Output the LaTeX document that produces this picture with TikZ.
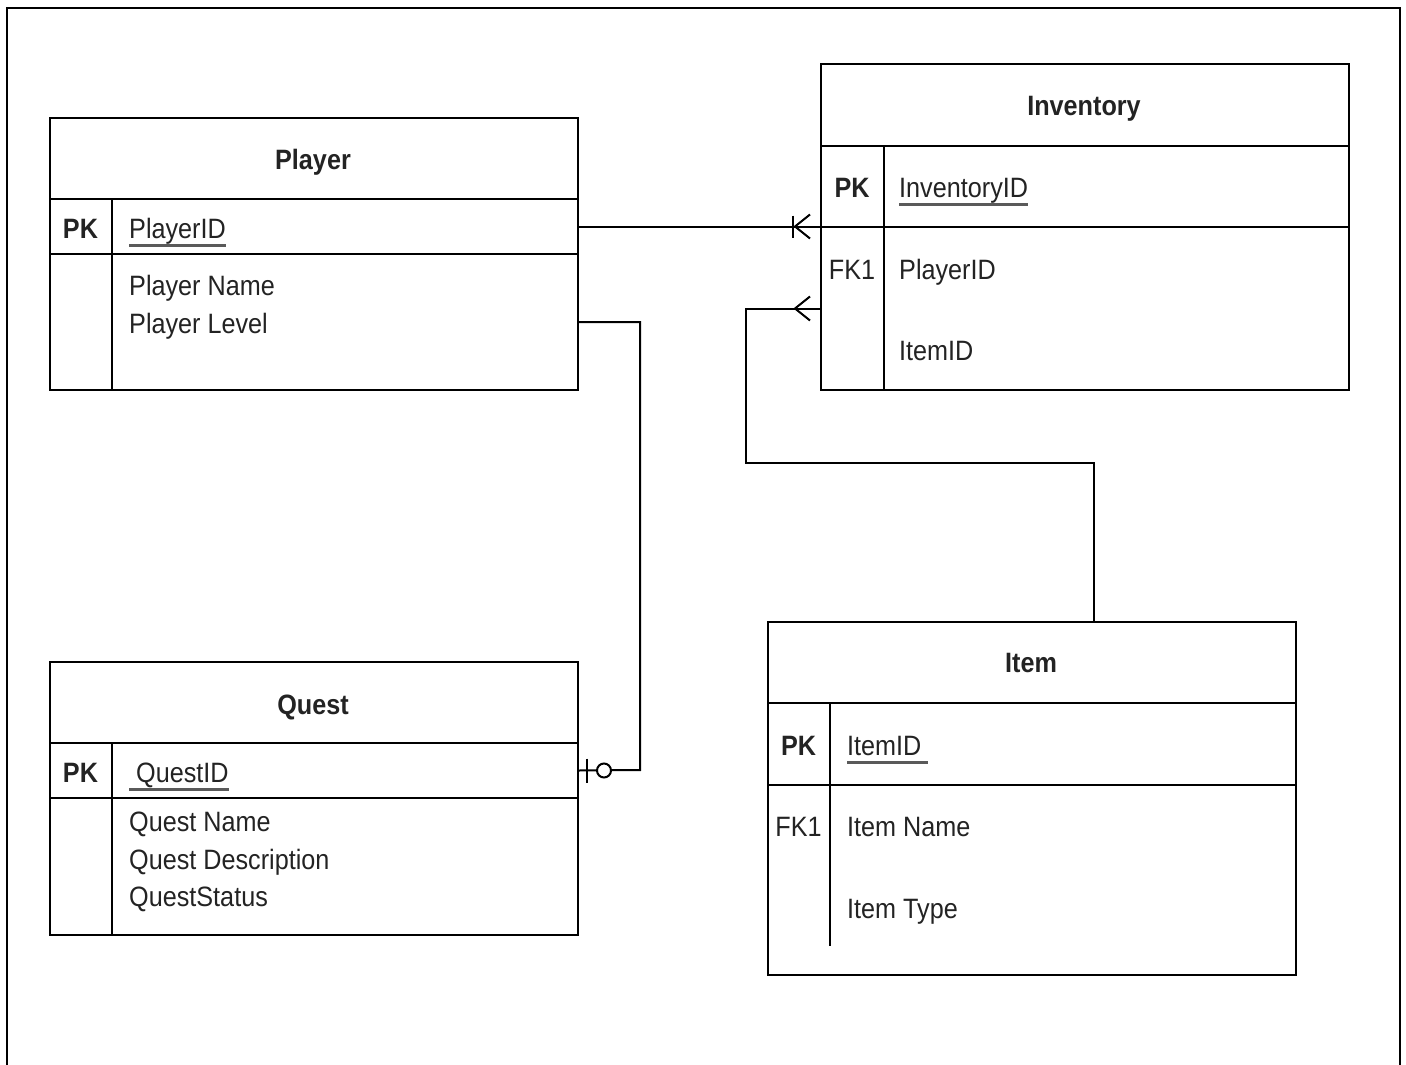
\documentclass[tikz,border=0pt]{standalone}
\usepackage{fontspec}
\setmainfont[FakeStretch=0.9]{Liberation Sans}
\definecolor{txt}{RGB}{35,35,35}
\definecolor{ulgray}{RGB}{90,90,90}
\newsavebox{\ulboxx}
\newcommand{\ulx}[1]{\sbox{\ulboxx}{#1}\rlap{\textcolor{ulgray}{\rule[-8.5pt]{\wd\ulboxx}{3pt}}}\usebox{\ulboxx}}
\begin{document}
\begin{tikzpicture}[x=1pt,y=-1pt,
  tbl/.style={draw, line width=2pt, rectangle, inner sep=0pt, anchor=north west, minimum width=528pt},
  lbl/.style={anchor=base west, inner sep=0pt, font=\fontsize{28}{33}\selectfont, text=txt},
  keylbl/.style={anchor=base, inner sep=0pt, font=\fontsize{28}{33}\selectfont, text=txt},
  ttl/.style={anchor=base, inner sep=0pt, font=\fontsize{28}{33}\selectfont\bfseries, text=txt},
  conn/.style={line width=2pt, line join=miter},
  divider/.style={line width=2pt}
]
\useasboundingbox (0,0) rectangle (1406,1065);
% outer frame
\draw[line width=2.5pt] (7,1065) -- (7,8) -- (1400,8) -- (1400,1065);

% ---------------- Player ----------------
\node[tbl, minimum height=81pt] (playerH) at (49,117) {};
\node[tbl, minimum height=55pt] (playerPK) at (49,198) {};
\node[tbl, minimum height=136pt] (playerB) at (49,253) {};
\draw[divider] (112,198) -- (112,389);
\node[ttl] (playerT) at (313,169) {Player};
\node[keylbl, font=\fontsize{28}{33}\selectfont\bfseries] (playerK) at (80.5,238) {PK};
\node[lbl] (playerID) at (129,238) {\ulx{PlayerID}};
\node[lbl] (playerN) at (129,295) {Player Name};
\node[lbl] (playerL) at (129,333) {Player Level};

% ---------------- Inventory ----------------
\node[tbl, minimum height=82pt] (invH) at (820,63) {};
\node[tbl, minimum height=81pt] (invPK) at (820,145) {};
\node[tbl, minimum height=163pt] (invB) at (820,226) {};
\draw[divider] (884,145) -- (884,389);
\node[ttl] (invT) at (1084,115) {Inventory};
\node[keylbl, font=\fontsize{28}{33}\selectfont\bfseries] (invK) at (852,197) {PK};
\node[lbl] (invID) at (899,197) {\ulx{InventoryID}};
\node[keylbl] (invFK) at (852,279) {FK1};
\node[lbl] (invP) at (899,279) {PlayerID};
\node[lbl] (invI) at (899,360) {ItemID};

% ---------------- Quest ----------------
\node[tbl, minimum height=81pt] (questH) at (49,661) {};
\node[tbl, minimum height=55pt] (questPK) at (49,742) {};
\node[tbl, minimum height=137pt] (questB) at (49,797) {};
\draw[divider] (112,742) -- (112,934);
\node[ttl] (questT) at (313,714) {Quest};
\node[keylbl, font=\fontsize{28}{33}\selectfont\bfseries] (questK) at (80.5,782) {PK};
\node[lbl] (questID) at (129,782) {\ulx{\ QuestID}};
\node[lbl] (questN) at (129,831) {Quest Name};
\node[lbl] (questD) at (129,869) {Quest Description};
\node[lbl] (questS) at (129,906) {QuestStatus};

% ---------------- Item ----------------
\node[tbl, minimum height=81pt] (itemH) at (767,621) {};
\node[tbl, minimum height=82pt] (itemPK) at (767,702) {};
\node[tbl, minimum height=190pt] (itemB) at (767,784) {};
\draw[divider] (830,702) -- (830,946);
\node[ttl] (itemT) at (1031,672) {Item};
\node[keylbl, font=\fontsize{28}{33}\selectfont\bfseries] (itemK) at (798.5,755) {PK};
\node[lbl] (itemID) at (847,755) {\ulx{ItemID\ }};
\node[keylbl] (itemFK) at (798.5,836) {FK1};
\node[lbl] (itemN) at (847,836) {Item Name};
\node[lbl] (itemTy) at (847,918) {Item Type};

% ---------------- Connectors ----------------
% Player -> Inventory (one or many)
\coordinate (j1) at (playerPK.east -| invPK.west);
\draw[conn] (playerPK.east) -- (j1);
\draw[conn] (j1) ++(-25,0) -- ++(15,-12);
\draw[conn] (j1) ++(-25,0) -- ++(15,12);
\draw[conn] (j1) ++(-27,-11) -- ++(0,22);

% Item -> Inventory (many)
\coordinate (itemTop) at (1094,621);
\coordinate (bend) at (746,463);
\draw[conn] (itemTop) |- (bend) |- (invB.west);
\draw[conn] (invB.west) ++(-25,0) -- ++(15,-12);
\draw[conn] (invB.west) ++(-25,0) -- ++(15,12);

% Player -> Quest (zero or one)
\coordinate (elbow) at (640,770);
\draw[conn] (playerB.east) -| (elbow) -- (questPK.east);
\draw[conn] (questPK.east) ++(8,-12) -- ++(0,24);
\draw[conn, fill=white] (questPK.east) ++(25,0) circle (7);
\end{tikzpicture}
\end{document}
